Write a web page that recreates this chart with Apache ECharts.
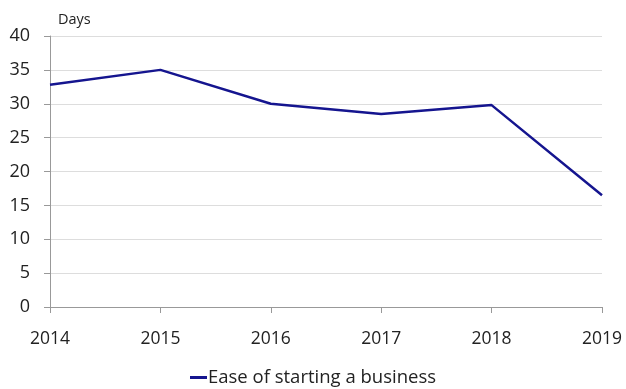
<!DOCTYPE html>
<html><head><meta charset="utf-8">
<script src="https://cdn.jsdelivr.net/npm/echarts@6/dist/echarts.min.js"></script>
<style>html,body{margin:0;padding:0;background:#fff}#c{width:626px;height:389px}</style>
</head><body><div id="c"></div>
<script>
const years = ['2014','2015','2016','2017','2018','2019'];
const days = [32.8, 35.0, 30.0, 28.5, 29.8, 16.5];
const seriesName = 'Ease of starting a business';
const unitLabel = 'Days';
const FONT = '"Open Sans", "DejaVu Sans", sans-serif';
const chart = echarts.init(document.getElementById('c'), null, {renderer:'canvas'});
chart.setOption({
  backgroundColor:'#fff',
  animation:false,
  grid:{left:50,right:24,top:36,bottom:82},
  legend:{bottom:-3,left:'center',itemWidth:17,itemHeight:3,icon:'rect',itemGap:4,
    textStyle:{fontFamily:FONT,fontSize:18.5,color:'#222',padding:[0,0,0,-4]},data:[seriesName]},
  xAxis:{type:'category',data:years,boundaryGap:false,
    axisLine:{lineStyle:{color:'#999',width:1}},
    axisTick:{show:true,length:6,lineStyle:{color:'#999'}},
    axisLabel:{fontFamily:FONT,fontSize:17.5,color:'#222',margin:23},
    splitLine:{show:false}},
  yAxis:{type:'value',min:0,max:40,interval:5,name:unitLabel,
    nameLocation:'end',nameGap:9,nameTextStyle:{fontFamily:FONT,fontSize:14.5,color:'#222',align:'left',padding:[0,0,0,8]},
    axisLine:{show:true,lineStyle:{color:'#999'}},
    axisTick:{show:true,length:6,lineStyle:{color:'#999'}},
    axisLabel:{fontFamily:FONT,fontSize:18,color:'#222',margin:20},
    splitLine:{lineStyle:{color:'#ddd',width:1}}},
  series:[{name:seriesName,type:'line',data:days,symbol:'none',
    lineStyle:{color:'#15158f',width:2.5},itemStyle:{color:'#15158f'}}]
});
</script></body></html>
